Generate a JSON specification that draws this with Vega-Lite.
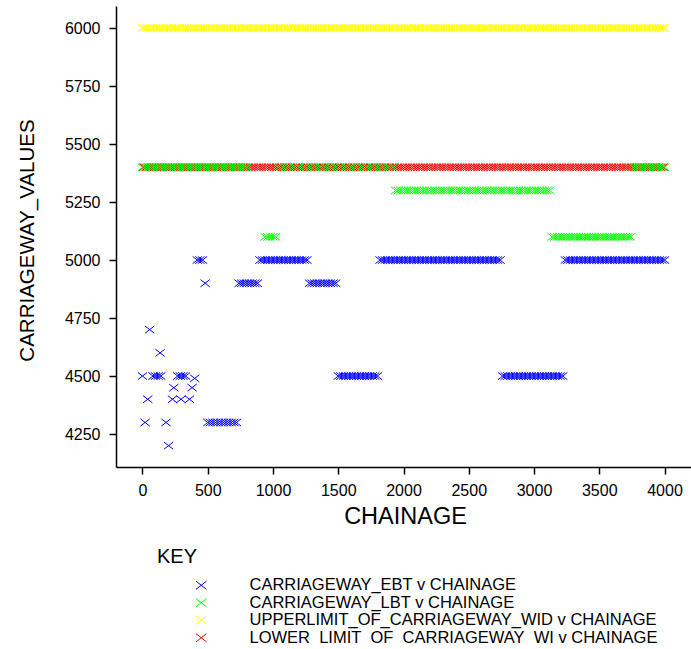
{
  "$schema": "https://vega.github.io/schema/vega-lite/v6.json",
  "width": 575,
  "height": 461,
  "autosize": {"type": "none"},
  "padding": {"left": 116, "top": 6, "right": 0, "bottom": 182},
  "background": "white",
  "config": {
    "view": {"stroke": null},
    "font": "Liberation Sans",
    "axis": {
      "grid": false,
      "domainColor": "black",
      "domainWidth": 1.5,
      "tickColor": "black",
      "tickWidth": 1.5,
      "tickSize": 7,
      "labelColor": "black",
      "labelFont": "Liberation Sans",
      "labelFontSize": 16,
      "titleColor": "black",
      "titleFontWeight": "normal"
    }
  },
  "data": {
    "values": [
      {"ch":0,"val":6000,"key":"UPP"},{"ch":20,"val":6000,"key":"UPP"},{"ch":40,"val":6000,"key":"UPP"},{"ch":60,"val":6000,"key":"UPP"},{"ch":80,"val":6000,"key":"UPP"},{"ch":100,"val":6000,"key":"UPP"},{"ch":120,"val":6000,"key":"UPP"},{"ch":140,"val":6000,"key":"UPP"},{"ch":160,"val":6000,"key":"UPP"},{"ch":180,"val":6000,"key":"UPP"},
      {"ch":200,"val":6000,"key":"UPP"},{"ch":220,"val":6000,"key":"UPP"},{"ch":240,"val":6000,"key":"UPP"},{"ch":260,"val":6000,"key":"UPP"},{"ch":280,"val":6000,"key":"UPP"},{"ch":300,"val":6000,"key":"UPP"},{"ch":320,"val":6000,"key":"UPP"},{"ch":340,"val":6000,"key":"UPP"},{"ch":360,"val":6000,"key":"UPP"},{"ch":380,"val":6000,"key":"UPP"},
      {"ch":400,"val":6000,"key":"UPP"},{"ch":420,"val":6000,"key":"UPP"},{"ch":440,"val":6000,"key":"UPP"},{"ch":460,"val":6000,"key":"UPP"},{"ch":480,"val":6000,"key":"UPP"},{"ch":500,"val":6000,"key":"UPP"},{"ch":520,"val":6000,"key":"UPP"},{"ch":540,"val":6000,"key":"UPP"},{"ch":560,"val":6000,"key":"UPP"},{"ch":580,"val":6000,"key":"UPP"},
      {"ch":600,"val":6000,"key":"UPP"},{"ch":620,"val":6000,"key":"UPP"},{"ch":640,"val":6000,"key":"UPP"},{"ch":660,"val":6000,"key":"UPP"},{"ch":680,"val":6000,"key":"UPP"},{"ch":700,"val":6000,"key":"UPP"},{"ch":720,"val":6000,"key":"UPP"},{"ch":740,"val":6000,"key":"UPP"},{"ch":760,"val":6000,"key":"UPP"},{"ch":780,"val":6000,"key":"UPP"},
      {"ch":800,"val":6000,"key":"UPP"},{"ch":820,"val":6000,"key":"UPP"},{"ch":840,"val":6000,"key":"UPP"},{"ch":860,"val":6000,"key":"UPP"},{"ch":880,"val":6000,"key":"UPP"},{"ch":900,"val":6000,"key":"UPP"},{"ch":920,"val":6000,"key":"UPP"},{"ch":940,"val":6000,"key":"UPP"},{"ch":960,"val":6000,"key":"UPP"},{"ch":980,"val":6000,"key":"UPP"},
      {"ch":1000,"val":6000,"key":"UPP"},{"ch":1020,"val":6000,"key":"UPP"},{"ch":1040,"val":6000,"key":"UPP"},{"ch":1060,"val":6000,"key":"UPP"},{"ch":1080,"val":6000,"key":"UPP"},{"ch":1100,"val":6000,"key":"UPP"},{"ch":1120,"val":6000,"key":"UPP"},{"ch":1140,"val":6000,"key":"UPP"},{"ch":1160,"val":6000,"key":"UPP"},{"ch":1180,"val":6000,"key":"UPP"},
      {"ch":1200,"val":6000,"key":"UPP"},{"ch":1220,"val":6000,"key":"UPP"},{"ch":1240,"val":6000,"key":"UPP"},{"ch":1260,"val":6000,"key":"UPP"},{"ch":1280,"val":6000,"key":"UPP"},{"ch":1300,"val":6000,"key":"UPP"},{"ch":1320,"val":6000,"key":"UPP"},{"ch":1340,"val":6000,"key":"UPP"},{"ch":1360,"val":6000,"key":"UPP"},{"ch":1380,"val":6000,"key":"UPP"},
      {"ch":1400,"val":6000,"key":"UPP"},{"ch":1420,"val":6000,"key":"UPP"},{"ch":1440,"val":6000,"key":"UPP"},{"ch":1460,"val":6000,"key":"UPP"},{"ch":1480,"val":6000,"key":"UPP"},{"ch":1500,"val":6000,"key":"UPP"},{"ch":1520,"val":6000,"key":"UPP"},{"ch":1540,"val":6000,"key":"UPP"},{"ch":1560,"val":6000,"key":"UPP"},{"ch":1580,"val":6000,"key":"UPP"},
      {"ch":1600,"val":6000,"key":"UPP"},{"ch":1620,"val":6000,"key":"UPP"},{"ch":1640,"val":6000,"key":"UPP"},{"ch":1660,"val":6000,"key":"UPP"},{"ch":1680,"val":6000,"key":"UPP"},{"ch":1700,"val":6000,"key":"UPP"},{"ch":1720,"val":6000,"key":"UPP"},{"ch":1740,"val":6000,"key":"UPP"},{"ch":1760,"val":6000,"key":"UPP"},{"ch":1780,"val":6000,"key":"UPP"},
      {"ch":1800,"val":6000,"key":"UPP"},{"ch":1820,"val":6000,"key":"UPP"},{"ch":1840,"val":6000,"key":"UPP"},{"ch":1860,"val":6000,"key":"UPP"},{"ch":1880,"val":6000,"key":"UPP"},{"ch":1900,"val":6000,"key":"UPP"},{"ch":1920,"val":6000,"key":"UPP"},{"ch":1940,"val":6000,"key":"UPP"},{"ch":1960,"val":6000,"key":"UPP"},{"ch":1980,"val":6000,"key":"UPP"},
      {"ch":2000,"val":6000,"key":"UPP"},{"ch":2020,"val":6000,"key":"UPP"},{"ch":2040,"val":6000,"key":"UPP"},{"ch":2060,"val":6000,"key":"UPP"},{"ch":2080,"val":6000,"key":"UPP"},{"ch":2100,"val":6000,"key":"UPP"},{"ch":2120,"val":6000,"key":"UPP"},{"ch":2140,"val":6000,"key":"UPP"},{"ch":2160,"val":6000,"key":"UPP"},{"ch":2180,"val":6000,"key":"UPP"},
      {"ch":2200,"val":6000,"key":"UPP"},{"ch":2220,"val":6000,"key":"UPP"},{"ch":2240,"val":6000,"key":"UPP"},{"ch":2260,"val":6000,"key":"UPP"},{"ch":2280,"val":6000,"key":"UPP"},{"ch":2300,"val":6000,"key":"UPP"},{"ch":2320,"val":6000,"key":"UPP"},{"ch":2340,"val":6000,"key":"UPP"},{"ch":2360,"val":6000,"key":"UPP"},{"ch":2380,"val":6000,"key":"UPP"},
      {"ch":2400,"val":6000,"key":"UPP"},{"ch":2420,"val":6000,"key":"UPP"},{"ch":2440,"val":6000,"key":"UPP"},{"ch":2460,"val":6000,"key":"UPP"},{"ch":2480,"val":6000,"key":"UPP"},{"ch":2500,"val":6000,"key":"UPP"},{"ch":2520,"val":6000,"key":"UPP"},{"ch":2540,"val":6000,"key":"UPP"},{"ch":2560,"val":6000,"key":"UPP"},{"ch":2580,"val":6000,"key":"UPP"},
      {"ch":2600,"val":6000,"key":"UPP"},{"ch":2620,"val":6000,"key":"UPP"},{"ch":2640,"val":6000,"key":"UPP"},{"ch":2660,"val":6000,"key":"UPP"},{"ch":2680,"val":6000,"key":"UPP"},{"ch":2700,"val":6000,"key":"UPP"},{"ch":2720,"val":6000,"key":"UPP"},{"ch":2740,"val":6000,"key":"UPP"},{"ch":2760,"val":6000,"key":"UPP"},{"ch":2780,"val":6000,"key":"UPP"},
      {"ch":2800,"val":6000,"key":"UPP"},{"ch":2820,"val":6000,"key":"UPP"},{"ch":2840,"val":6000,"key":"UPP"},{"ch":2860,"val":6000,"key":"UPP"},{"ch":2880,"val":6000,"key":"UPP"},{"ch":2900,"val":6000,"key":"UPP"},{"ch":2920,"val":6000,"key":"UPP"},{"ch":2940,"val":6000,"key":"UPP"},{"ch":2960,"val":6000,"key":"UPP"},{"ch":2980,"val":6000,"key":"UPP"},
      {"ch":3000,"val":6000,"key":"UPP"},{"ch":3020,"val":6000,"key":"UPP"},{"ch":3040,"val":6000,"key":"UPP"},{"ch":3060,"val":6000,"key":"UPP"},{"ch":3080,"val":6000,"key":"UPP"},{"ch":3100,"val":6000,"key":"UPP"},{"ch":3120,"val":6000,"key":"UPP"},{"ch":3140,"val":6000,"key":"UPP"},{"ch":3160,"val":6000,"key":"UPP"},{"ch":3180,"val":6000,"key":"UPP"},
      {"ch":3200,"val":6000,"key":"UPP"},{"ch":3220,"val":6000,"key":"UPP"},{"ch":3240,"val":6000,"key":"UPP"},{"ch":3260,"val":6000,"key":"UPP"},{"ch":3280,"val":6000,"key":"UPP"},{"ch":3300,"val":6000,"key":"UPP"},{"ch":3320,"val":6000,"key":"UPP"},{"ch":3340,"val":6000,"key":"UPP"},{"ch":3360,"val":6000,"key":"UPP"},{"ch":3380,"val":6000,"key":"UPP"},
      {"ch":3400,"val":6000,"key":"UPP"},{"ch":3420,"val":6000,"key":"UPP"},{"ch":3440,"val":6000,"key":"UPP"},{"ch":3460,"val":6000,"key":"UPP"},{"ch":3480,"val":6000,"key":"UPP"},{"ch":3500,"val":6000,"key":"UPP"},{"ch":3520,"val":6000,"key":"UPP"},{"ch":3540,"val":6000,"key":"UPP"},{"ch":3560,"val":6000,"key":"UPP"},{"ch":3580,"val":6000,"key":"UPP"},
      {"ch":3600,"val":6000,"key":"UPP"},{"ch":3620,"val":6000,"key":"UPP"},{"ch":3640,"val":6000,"key":"UPP"},{"ch":3660,"val":6000,"key":"UPP"},{"ch":3680,"val":6000,"key":"UPP"},{"ch":3700,"val":6000,"key":"UPP"},{"ch":3720,"val":6000,"key":"UPP"},{"ch":3740,"val":6000,"key":"UPP"},{"ch":3760,"val":6000,"key":"UPP"},{"ch":3780,"val":6000,"key":"UPP"},
      {"ch":3800,"val":6000,"key":"UPP"},{"ch":3820,"val":6000,"key":"UPP"},{"ch":3840,"val":6000,"key":"UPP"},{"ch":3860,"val":6000,"key":"UPP"},{"ch":3880,"val":6000,"key":"UPP"},{"ch":3900,"val":6000,"key":"UPP"},{"ch":3920,"val":6000,"key":"UPP"},{"ch":3940,"val":6000,"key":"UPP"},{"ch":3960,"val":6000,"key":"UPP"},{"ch":3980,"val":6000,"key":"UPP"},
      {"ch":4000,"val":6000,"key":"UPP"},

      {"ch":0,"val":4500,"key":"EBT"},{"ch":20,"val":4300,"key":"EBT"},{"ch":40,"val":4400,"key":"EBT"},{"ch":55,"val":4700,"key":"EBT"},{"ch":80,"val":4500,"key":"EBT"},{"ch":100,"val":4500,"key":"EBT"},{"ch":120,"val":4500,"key":"EBT"},{"ch":135,"val":4600,"key":"EBT"},{"ch":140,"val":4500,"key":"EBT"},{"ch":180,"val":4300,"key":"EBT"},
      {"ch":200,"val":4200,"key":"EBT"},{"ch":230,"val":4400,"key":"EBT"},{"ch":240,"val":4450,"key":"EBT"},{"ch":270,"val":4500,"key":"EBT"},{"ch":290,"val":4500,"key":"EBT"},{"ch":295,"val":4400,"key":"EBT"},{"ch":310,"val":4500,"key":"EBT"},{"ch":330,"val":4500,"key":"EBT"},{"ch":360,"val":4400,"key":"EBT"},{"ch":380,"val":4450,"key":"EBT"},
      {"ch":400,"val":4490,"key":"EBT"},{"ch":420,"val":5000,"key":"EBT"},{"ch":440,"val":5000,"key":"EBT"},{"ch":460,"val":5000,"key":"EBT"},{"ch":480,"val":4900,"key":"EBT"},
      {"ch":500,"val":4300,"key":"EBT"},{"ch":520,"val":4300,"key":"EBT"},{"ch":540,"val":4300,"key":"EBT"},{"ch":560,"val":4300,"key":"EBT"},{"ch":580,"val":4300,"key":"EBT"},{"ch":600,"val":4300,"key":"EBT"},{"ch":620,"val":4300,"key":"EBT"},{"ch":640,"val":4300,"key":"EBT"},{"ch":660,"val":4300,"key":"EBT"},{"ch":680,"val":4300,"key":"EBT"},{"ch":700,"val":4300,"key":"EBT"},{"ch":720,"val":4300,"key":"EBT"},
      {"ch":740,"val":4900,"key":"EBT"},{"ch":760,"val":4900,"key":"EBT"},{"ch":780,"val":4900,"key":"EBT"},{"ch":800,"val":4900,"key":"EBT"},{"ch":820,"val":4900,"key":"EBT"},{"ch":840,"val":4900,"key":"EBT"},{"ch":860,"val":4900,"key":"EBT"},{"ch":880,"val":4900,"key":"EBT"},
      {"ch":900,"val":5000,"key":"EBT"},{"ch":920,"val":5000,"key":"EBT"},{"ch":940,"val":5000,"key":"EBT"},{"ch":960,"val":5000,"key":"EBT"},{"ch":980,"val":5000,"key":"EBT"},{"ch":1000,"val":5000,"key":"EBT"},{"ch":1020,"val":5000,"key":"EBT"},{"ch":1040,"val":5000,"key":"EBT"},{"ch":1060,"val":5000,"key":"EBT"},{"ch":1080,"val":5000,"key":"EBT"},
      {"ch":1100,"val":5000,"key":"EBT"},{"ch":1120,"val":5000,"key":"EBT"},{"ch":1140,"val":5000,"key":"EBT"},{"ch":1160,"val":5000,"key":"EBT"},{"ch":1180,"val":5000,"key":"EBT"},{"ch":1200,"val":5000,"key":"EBT"},{"ch":1220,"val":5000,"key":"EBT"},{"ch":1240,"val":5000,"key":"EBT"},{"ch":1260,"val":5000,"key":"EBT"},
      {"ch":1280,"val":4900,"key":"EBT"},{"ch":1300,"val":4900,"key":"EBT"},{"ch":1320,"val":4900,"key":"EBT"},{"ch":1340,"val":4900,"key":"EBT"},{"ch":1360,"val":4900,"key":"EBT"},{"ch":1380,"val":4900,"key":"EBT"},{"ch":1400,"val":4900,"key":"EBT"},{"ch":1420,"val":4900,"key":"EBT"},{"ch":1440,"val":4900,"key":"EBT"},{"ch":1460,"val":4900,"key":"EBT"},{"ch":1480,"val":4900,"key":"EBT"},
      {"ch":1500,"val":4500,"key":"EBT"},{"ch":1520,"val":4500,"key":"EBT"},{"ch":1540,"val":4500,"key":"EBT"},{"ch":1560,"val":4500,"key":"EBT"},{"ch":1580,"val":4500,"key":"EBT"},{"ch":1600,"val":4500,"key":"EBT"},{"ch":1620,"val":4500,"key":"EBT"},{"ch":1640,"val":4500,"key":"EBT"},{"ch":1660,"val":4500,"key":"EBT"},{"ch":1680,"val":4500,"key":"EBT"},
      {"ch":1700,"val":4500,"key":"EBT"},{"ch":1720,"val":4500,"key":"EBT"},{"ch":1740,"val":4500,"key":"EBT"},{"ch":1760,"val":4500,"key":"EBT"},{"ch":1780,"val":4500,"key":"EBT"},{"ch":1800,"val":4500,"key":"EBT"},
      {"ch":1820,"val":5000,"key":"EBT"},{"ch":1840,"val":5000,"key":"EBT"},{"ch":1860,"val":5000,"key":"EBT"},{"ch":1880,"val":5000,"key":"EBT"},{"ch":1900,"val":5000,"key":"EBT"},{"ch":1920,"val":5000,"key":"EBT"},{"ch":1940,"val":5000,"key":"EBT"},{"ch":1960,"val":5000,"key":"EBT"},{"ch":1980,"val":5000,"key":"EBT"},
      {"ch":2000,"val":5000,"key":"EBT"},{"ch":2020,"val":5000,"key":"EBT"},{"ch":2040,"val":5000,"key":"EBT"},{"ch":2060,"val":5000,"key":"EBT"},{"ch":2080,"val":5000,"key":"EBT"},{"ch":2100,"val":5000,"key":"EBT"},{"ch":2120,"val":5000,"key":"EBT"},{"ch":2140,"val":5000,"key":"EBT"},{"ch":2160,"val":5000,"key":"EBT"},{"ch":2180,"val":5000,"key":"EBT"},
      {"ch":2200,"val":5000,"key":"EBT"},{"ch":2220,"val":5000,"key":"EBT"},{"ch":2240,"val":5000,"key":"EBT"},{"ch":2260,"val":5000,"key":"EBT"},{"ch":2280,"val":5000,"key":"EBT"},{"ch":2300,"val":5000,"key":"EBT"},{"ch":2320,"val":5000,"key":"EBT"},{"ch":2340,"val":5000,"key":"EBT"},{"ch":2360,"val":5000,"key":"EBT"},{"ch":2380,"val":5000,"key":"EBT"},
      {"ch":2400,"val":5000,"key":"EBT"},{"ch":2420,"val":5000,"key":"EBT"},{"ch":2440,"val":5000,"key":"EBT"},{"ch":2460,"val":5000,"key":"EBT"},{"ch":2480,"val":5000,"key":"EBT"},{"ch":2500,"val":5000,"key":"EBT"},{"ch":2520,"val":5000,"key":"EBT"},{"ch":2540,"val":5000,"key":"EBT"},{"ch":2560,"val":5000,"key":"EBT"},{"ch":2580,"val":5000,"key":"EBT"},
      {"ch":2600,"val":5000,"key":"EBT"},{"ch":2620,"val":5000,"key":"EBT"},{"ch":2640,"val":5000,"key":"EBT"},{"ch":2660,"val":5000,"key":"EBT"},{"ch":2680,"val":5000,"key":"EBT"},{"ch":2700,"val":5000,"key":"EBT"},{"ch":2720,"val":5000,"key":"EBT"},{"ch":2740,"val":5000,"key":"EBT"},
      {"ch":2760,"val":4500,"key":"EBT"},{"ch":2780,"val":4500,"key":"EBT"},{"ch":2800,"val":4500,"key":"EBT"},{"ch":2820,"val":4500,"key":"EBT"},{"ch":2840,"val":4500,"key":"EBT"},{"ch":2860,"val":4500,"key":"EBT"},{"ch":2880,"val":4500,"key":"EBT"},{"ch":2900,"val":4500,"key":"EBT"},{"ch":2920,"val":4500,"key":"EBT"},{"ch":2940,"val":4500,"key":"EBT"},
      {"ch":2960,"val":4500,"key":"EBT"},{"ch":2980,"val":4500,"key":"EBT"},{"ch":3000,"val":4500,"key":"EBT"},{"ch":3020,"val":4500,"key":"EBT"},{"ch":3040,"val":4500,"key":"EBT"},{"ch":3060,"val":4500,"key":"EBT"},{"ch":3080,"val":4500,"key":"EBT"},{"ch":3100,"val":4500,"key":"EBT"},{"ch":3120,"val":4500,"key":"EBT"},{"ch":3140,"val":4500,"key":"EBT"},
      {"ch":3160,"val":4500,"key":"EBT"},{"ch":3180,"val":4500,"key":"EBT"},{"ch":3200,"val":4500,"key":"EBT"},{"ch":3220,"val":4500,"key":"EBT"},
      {"ch":3240,"val":5000,"key":"EBT"},{"ch":3260,"val":5000,"key":"EBT"},{"ch":3280,"val":5000,"key":"EBT"},{"ch":3300,"val":5000,"key":"EBT"},{"ch":3320,"val":5000,"key":"EBT"},{"ch":3340,"val":5000,"key":"EBT"},{"ch":3360,"val":5000,"key":"EBT"},{"ch":3380,"val":5000,"key":"EBT"},
      {"ch":3400,"val":5000,"key":"EBT"},{"ch":3420,"val":5000,"key":"EBT"},{"ch":3440,"val":5000,"key":"EBT"},{"ch":3460,"val":5000,"key":"EBT"},{"ch":3480,"val":5000,"key":"EBT"},{"ch":3500,"val":5000,"key":"EBT"},{"ch":3520,"val":5000,"key":"EBT"},{"ch":3540,"val":5000,"key":"EBT"},{"ch":3560,"val":5000,"key":"EBT"},{"ch":3580,"val":5000,"key":"EBT"},
      {"ch":3600,"val":5000,"key":"EBT"},{"ch":3620,"val":5000,"key":"EBT"},{"ch":3640,"val":5000,"key":"EBT"},{"ch":3660,"val":5000,"key":"EBT"},{"ch":3680,"val":5000,"key":"EBT"},{"ch":3700,"val":5000,"key":"EBT"},{"ch":3720,"val":5000,"key":"EBT"},{"ch":3740,"val":5000,"key":"EBT"},{"ch":3760,"val":5000,"key":"EBT"},{"ch":3780,"val":5000,"key":"EBT"},
      {"ch":3800,"val":5000,"key":"EBT"},{"ch":3820,"val":5000,"key":"EBT"},{"ch":3840,"val":5000,"key":"EBT"},{"ch":3860,"val":5000,"key":"EBT"},{"ch":3880,"val":5000,"key":"EBT"},{"ch":3900,"val":5000,"key":"EBT"},{"ch":3920,"val":5000,"key":"EBT"},{"ch":3940,"val":5000,"key":"EBT"},{"ch":3960,"val":5000,"key":"EBT"},{"ch":3980,"val":5000,"key":"EBT"},
      {"ch":4000,"val":5000,"key":"EBT"},

      {"ch":10,"val":5400,"key":"LOW"},{"ch":30,"val":5400,"key":"LOW"},{"ch":50,"val":5400,"key":"LOW"},{"ch":70,"val":5400,"key":"LOW"},{"ch":90,"val":5400,"key":"LOW"},{"ch":110,"val":5400,"key":"LOW"},{"ch":130,"val":5400,"key":"LOW"},{"ch":150,"val":5400,"key":"LOW"},{"ch":170,"val":5400,"key":"LOW"},{"ch":190,"val":5400,"key":"LOW"},
      {"ch":210,"val":5400,"key":"LOW"},{"ch":230,"val":5400,"key":"LOW"},{"ch":250,"val":5400,"key":"LOW"},{"ch":270,"val":5400,"key":"LOW"},{"ch":290,"val":5400,"key":"LOW"},{"ch":310,"val":5400,"key":"LOW"},{"ch":330,"val":5400,"key":"LOW"},{"ch":350,"val":5400,"key":"LOW"},{"ch":370,"val":5400,"key":"LOW"},{"ch":390,"val":5400,"key":"LOW"},
      {"ch":410,"val":5400,"key":"LOW"},{"ch":430,"val":5400,"key":"LOW"},{"ch":450,"val":5400,"key":"LOW"},{"ch":470,"val":5400,"key":"LOW"},{"ch":490,"val":5400,"key":"LOW"},{"ch":510,"val":5400,"key":"LOW"},{"ch":530,"val":5400,"key":"LOW"},{"ch":550,"val":5400,"key":"LOW"},{"ch":570,"val":5400,"key":"LOW"},{"ch":590,"val":5400,"key":"LOW"},
      {"ch":610,"val":5400,"key":"LOW"},{"ch":630,"val":5400,"key":"LOW"},{"ch":650,"val":5400,"key":"LOW"},{"ch":670,"val":5400,"key":"LOW"},{"ch":690,"val":5400,"key":"LOW"},{"ch":710,"val":5400,"key":"LOW"},{"ch":730,"val":5400,"key":"LOW"},{"ch":750,"val":5400,"key":"LOW"},{"ch":770,"val":5400,"key":"LOW"},{"ch":790,"val":5400,"key":"LOW"},
      {"ch":810,"val":5400,"key":"LOW"},{"ch":830,"val":5400,"key":"LOW"},{"ch":850,"val":5400,"key":"LOW"},{"ch":870,"val":5400,"key":"LOW"},{"ch":890,"val":5400,"key":"LOW"},{"ch":910,"val":5400,"key":"LOW"},{"ch":930,"val":5400,"key":"LOW"},{"ch":950,"val":5400,"key":"LOW"},{"ch":970,"val":5400,"key":"LOW"},{"ch":990,"val":5400,"key":"LOW"},
      {"ch":1010,"val":5400,"key":"LOW"},{"ch":1030,"val":5400,"key":"LOW"},{"ch":1050,"val":5400,"key":"LOW"},{"ch":1070,"val":5400,"key":"LOW"},{"ch":1090,"val":5400,"key":"LOW"},{"ch":1110,"val":5400,"key":"LOW"},{"ch":1130,"val":5400,"key":"LOW"},{"ch":1150,"val":5400,"key":"LOW"},{"ch":1170,"val":5400,"key":"LOW"},{"ch":1190,"val":5400,"key":"LOW"},
      {"ch":1210,"val":5400,"key":"LOW"},{"ch":1230,"val":5400,"key":"LOW"},{"ch":1250,"val":5400,"key":"LOW"},{"ch":1270,"val":5400,"key":"LOW"},{"ch":1290,"val":5400,"key":"LOW"},{"ch":1310,"val":5400,"key":"LOW"},{"ch":1330,"val":5400,"key":"LOW"},{"ch":1350,"val":5400,"key":"LOW"},{"ch":1370,"val":5400,"key":"LOW"},{"ch":1390,"val":5400,"key":"LOW"},
      {"ch":1410,"val":5400,"key":"LOW"},{"ch":1430,"val":5400,"key":"LOW"},{"ch":1450,"val":5400,"key":"LOW"},{"ch":1470,"val":5400,"key":"LOW"},{"ch":1490,"val":5400,"key":"LOW"},{"ch":1510,"val":5400,"key":"LOW"},{"ch":1530,"val":5400,"key":"LOW"},{"ch":1550,"val":5400,"key":"LOW"},{"ch":1570,"val":5400,"key":"LOW"},{"ch":1590,"val":5400,"key":"LOW"},
      {"ch":1610,"val":5400,"key":"LOW"},{"ch":1630,"val":5400,"key":"LOW"},{"ch":1650,"val":5400,"key":"LOW"},{"ch":1670,"val":5400,"key":"LOW"},{"ch":1690,"val":5400,"key":"LOW"},{"ch":1710,"val":5400,"key":"LOW"},{"ch":1730,"val":5400,"key":"LOW"},{"ch":1750,"val":5400,"key":"LOW"},{"ch":1770,"val":5400,"key":"LOW"},{"ch":1790,"val":5400,"key":"LOW"},
      {"ch":1810,"val":5400,"key":"LOW"},{"ch":1830,"val":5400,"key":"LOW"},{"ch":1850,"val":5400,"key":"LOW"},{"ch":1870,"val":5400,"key":"LOW"},{"ch":1890,"val":5400,"key":"LOW"},{"ch":1910,"val":5400,"key":"LOW"},{"ch":1930,"val":5400,"key":"LOW"},{"ch":1950,"val":5400,"key":"LOW"},{"ch":1970,"val":5400,"key":"LOW"},{"ch":1990,"val":5400,"key":"LOW"},
      {"ch":2010,"val":5400,"key":"LOW"},{"ch":2030,"val":5400,"key":"LOW"},{"ch":2050,"val":5400,"key":"LOW"},{"ch":2070,"val":5400,"key":"LOW"},{"ch":2090,"val":5400,"key":"LOW"},{"ch":2110,"val":5400,"key":"LOW"},{"ch":2130,"val":5400,"key":"LOW"},{"ch":2150,"val":5400,"key":"LOW"},{"ch":2170,"val":5400,"key":"LOW"},{"ch":2190,"val":5400,"key":"LOW"},
      {"ch":2210,"val":5400,"key":"LOW"},{"ch":2230,"val":5400,"key":"LOW"},{"ch":2250,"val":5400,"key":"LOW"},{"ch":2270,"val":5400,"key":"LOW"},{"ch":2290,"val":5400,"key":"LOW"},{"ch":2310,"val":5400,"key":"LOW"},{"ch":2330,"val":5400,"key":"LOW"},{"ch":2350,"val":5400,"key":"LOW"},{"ch":2370,"val":5400,"key":"LOW"},{"ch":2390,"val":5400,"key":"LOW"},
      {"ch":2410,"val":5400,"key":"LOW"},{"ch":2430,"val":5400,"key":"LOW"},{"ch":2450,"val":5400,"key":"LOW"},{"ch":2470,"val":5400,"key":"LOW"},{"ch":2490,"val":5400,"key":"LOW"},{"ch":2510,"val":5400,"key":"LOW"},{"ch":2530,"val":5400,"key":"LOW"},{"ch":2550,"val":5400,"key":"LOW"},{"ch":2570,"val":5400,"key":"LOW"},{"ch":2590,"val":5400,"key":"LOW"},
      {"ch":2610,"val":5400,"key":"LOW"},{"ch":2630,"val":5400,"key":"LOW"},{"ch":2650,"val":5400,"key":"LOW"},{"ch":2670,"val":5400,"key":"LOW"},{"ch":2690,"val":5400,"key":"LOW"},{"ch":2710,"val":5400,"key":"LOW"},{"ch":2730,"val":5400,"key":"LOW"},{"ch":2750,"val":5400,"key":"LOW"},{"ch":2770,"val":5400,"key":"LOW"},{"ch":2790,"val":5400,"key":"LOW"},
      {"ch":2810,"val":5400,"key":"LOW"},{"ch":2830,"val":5400,"key":"LOW"},{"ch":2850,"val":5400,"key":"LOW"},{"ch":2870,"val":5400,"key":"LOW"},{"ch":2890,"val":5400,"key":"LOW"},{"ch":2910,"val":5400,"key":"LOW"},{"ch":2930,"val":5400,"key":"LOW"},{"ch":2950,"val":5400,"key":"LOW"},{"ch":2970,"val":5400,"key":"LOW"},{"ch":2990,"val":5400,"key":"LOW"},
      {"ch":3010,"val":5400,"key":"LOW"},{"ch":3030,"val":5400,"key":"LOW"},{"ch":3050,"val":5400,"key":"LOW"},{"ch":3070,"val":5400,"key":"LOW"},{"ch":3090,"val":5400,"key":"LOW"},{"ch":3110,"val":5400,"key":"LOW"},{"ch":3130,"val":5400,"key":"LOW"},{"ch":3150,"val":5400,"key":"LOW"},{"ch":3170,"val":5400,"key":"LOW"},{"ch":3190,"val":5400,"key":"LOW"},
      {"ch":3210,"val":5400,"key":"LOW"},{"ch":3230,"val":5400,"key":"LOW"},{"ch":3250,"val":5400,"key":"LOW"},{"ch":3270,"val":5400,"key":"LOW"},{"ch":3290,"val":5400,"key":"LOW"},{"ch":3310,"val":5400,"key":"LOW"},{"ch":3330,"val":5400,"key":"LOW"},{"ch":3350,"val":5400,"key":"LOW"},{"ch":3370,"val":5400,"key":"LOW"},{"ch":3390,"val":5400,"key":"LOW"},
      {"ch":3410,"val":5400,"key":"LOW"},{"ch":3430,"val":5400,"key":"LOW"},{"ch":3450,"val":5400,"key":"LOW"},{"ch":3470,"val":5400,"key":"LOW"},{"ch":3490,"val":5400,"key":"LOW"},{"ch":3510,"val":5400,"key":"LOW"},{"ch":3530,"val":5400,"key":"LOW"},{"ch":3550,"val":5400,"key":"LOW"},{"ch":3570,"val":5400,"key":"LOW"},{"ch":3590,"val":5400,"key":"LOW"},
      {"ch":3610,"val":5400,"key":"LOW"},{"ch":3630,"val":5400,"key":"LOW"},{"ch":3650,"val":5400,"key":"LOW"},{"ch":3670,"val":5400,"key":"LOW"},{"ch":3690,"val":5400,"key":"LOW"},{"ch":3710,"val":5400,"key":"LOW"},{"ch":3730,"val":5400,"key":"LOW"},{"ch":3750,"val":5400,"key":"LOW"},{"ch":3770,"val":5400,"key":"LOW"},{"ch":3790,"val":5400,"key":"LOW"},
      {"ch":3810,"val":5400,"key":"LOW"},{"ch":3830,"val":5400,"key":"LOW"},{"ch":3850,"val":5400,"key":"LOW"},{"ch":3870,"val":5400,"key":"LOW"},{"ch":3890,"val":5400,"key":"LOW"},{"ch":3910,"val":5400,"key":"LOW"},{"ch":3930,"val":5400,"key":"LOW"},{"ch":3950,"val":5400,"key":"LOW"},{"ch":3970,"val":5400,"key":"LOW"},{"ch":3990,"val":5400,"key":"LOW"},

      {"ch":0,"val":5400,"key":"LBT"},{"ch":20,"val":5400,"key":"LBT"},{"ch":40,"val":5400,"key":"LBT"},{"ch":60,"val":5400,"key":"LBT"},{"ch":80,"val":5400,"key":"LBT"},{"ch":100,"val":5400,"key":"LBT"},{"ch":120,"val":5400,"key":"LBT"},{"ch":140,"val":5400,"key":"LBT"},{"ch":160,"val":5400,"key":"LBT"},{"ch":180,"val":5400,"key":"LBT"},
      {"ch":200,"val":5400,"key":"LBT"},{"ch":220,"val":5400,"key":"LBT"},{"ch":240,"val":5400,"key":"LBT"},{"ch":260,"val":5400,"key":"LBT"},{"ch":280,"val":5400,"key":"LBT"},{"ch":300,"val":5400,"key":"LBT"},{"ch":320,"val":5400,"key":"LBT"},{"ch":340,"val":5400,"key":"LBT"},{"ch":360,"val":5400,"key":"LBT"},{"ch":380,"val":5400,"key":"LBT"},
      {"ch":400,"val":5400,"key":"LBT"},{"ch":420,"val":5400,"key":"LBT"},{"ch":440,"val":5400,"key":"LBT"},{"ch":460,"val":5400,"key":"LBT"},{"ch":480,"val":5400,"key":"LBT"},{"ch":500,"val":5400,"key":"LBT"},{"ch":520,"val":5400,"key":"LBT"},{"ch":540,"val":5400,"key":"LBT"},{"ch":560,"val":5400,"key":"LBT"},{"ch":580,"val":5400,"key":"LBT"},
      {"ch":600,"val":5400,"key":"LBT"},{"ch":620,"val":5400,"key":"LBT"},{"ch":640,"val":5400,"key":"LBT"},{"ch":660,"val":5400,"key":"LBT"},{"ch":680,"val":5400,"key":"LBT"},{"ch":700,"val":5400,"key":"LBT"},{"ch":720,"val":5400,"key":"LBT"},{"ch":740,"val":5400,"key":"LBT"},{"ch":760,"val":5400,"key":"LBT"},{"ch":780,"val":5400,"key":"LBT"},
      {"ch":800,"val":5400,"key":"LBT"},
      {"ch":940,"val":5100,"key":"LBT"},{"ch":960,"val":5100,"key":"LBT"},{"ch":980,"val":5100,"key":"LBT"},{"ch":1000,"val":5100,"key":"LBT"},{"ch":1020,"val":5100,"key":"LBT"},
      {"ch":1040,"val":5400,"key":"LBT"},{"ch":1080,"val":5400,"key":"LBT"},{"ch":1120,"val":5400,"key":"LBT"},{"ch":1160,"val":5400,"key":"LBT"},
      {"ch":1200,"val":5400,"key":"LBT"},{"ch":1240,"val":5400,"key":"LBT"},{"ch":1280,"val":5400,"key":"LBT"},{"ch":1320,"val":5400,"key":"LBT"},{"ch":1360,"val":5400,"key":"LBT"},
      {"ch":1400,"val":5400,"key":"LBT"},{"ch":1440,"val":5400,"key":"LBT"},{"ch":1480,"val":5400,"key":"LBT"},{"ch":1520,"val":5400,"key":"LBT"},{"ch":1560,"val":5400,"key":"LBT"},
      {"ch":1600,"val":5400,"key":"LBT"},{"ch":1640,"val":5400,"key":"LBT"},{"ch":1680,"val":5400,"key":"LBT"},{"ch":1720,"val":5400,"key":"LBT"},{"ch":1760,"val":5400,"key":"LBT"},
      {"ch":1800,"val":5400,"key":"LBT"},{"ch":1840,"val":5400,"key":"LBT"},{"ch":1880,"val":5400,"key":"LBT"},{"ch":1920,"val":5400,"key":"LBT"},
      {"ch":1940,"val":5300,"key":"LBT"},{"ch":1960,"val":5300,"key":"LBT"},{"ch":1980,"val":5300,"key":"LBT"},{"ch":2000,"val":5300,"key":"LBT"},{"ch":2020,"val":5300,"key":"LBT"},{"ch":2040,"val":5300,"key":"LBT"},{"ch":2060,"val":5300,"key":"LBT"},{"ch":2080,"val":5300,"key":"LBT"},{"ch":2100,"val":5300,"key":"LBT"},{"ch":2120,"val":5300,"key":"LBT"},
      {"ch":2140,"val":5300,"key":"LBT"},{"ch":2160,"val":5300,"key":"LBT"},{"ch":2180,"val":5300,"key":"LBT"},{"ch":2200,"val":5300,"key":"LBT"},{"ch":2220,"val":5300,"key":"LBT"},{"ch":2240,"val":5300,"key":"LBT"},{"ch":2260,"val":5300,"key":"LBT"},{"ch":2280,"val":5300,"key":"LBT"},{"ch":2300,"val":5300,"key":"LBT"},{"ch":2320,"val":5300,"key":"LBT"},
      {"ch":2340,"val":5300,"key":"LBT"},{"ch":2360,"val":5300,"key":"LBT"},{"ch":2380,"val":5300,"key":"LBT"},{"ch":2400,"val":5300,"key":"LBT"},{"ch":2420,"val":5300,"key":"LBT"},{"ch":2440,"val":5300,"key":"LBT"},{"ch":2460,"val":5300,"key":"LBT"},{"ch":2480,"val":5300,"key":"LBT"},{"ch":2500,"val":5300,"key":"LBT"},{"ch":2520,"val":5300,"key":"LBT"},
      {"ch":2540,"val":5300,"key":"LBT"},{"ch":2560,"val":5300,"key":"LBT"},{"ch":2580,"val":5300,"key":"LBT"},{"ch":2600,"val":5300,"key":"LBT"},{"ch":2620,"val":5300,"key":"LBT"},{"ch":2640,"val":5300,"key":"LBT"},{"ch":2660,"val":5300,"key":"LBT"},{"ch":2680,"val":5300,"key":"LBT"},{"ch":2700,"val":5300,"key":"LBT"},{"ch":2720,"val":5300,"key":"LBT"},
      {"ch":2740,"val":5300,"key":"LBT"},{"ch":2760,"val":5300,"key":"LBT"},{"ch":2780,"val":5300,"key":"LBT"},{"ch":2800,"val":5300,"key":"LBT"},{"ch":2820,"val":5300,"key":"LBT"},{"ch":2840,"val":5300,"key":"LBT"},{"ch":2860,"val":5300,"key":"LBT"},{"ch":2880,"val":5300,"key":"LBT"},{"ch":2900,"val":5300,"key":"LBT"},{"ch":2920,"val":5300,"key":"LBT"},
      {"ch":2940,"val":5300,"key":"LBT"},{"ch":2960,"val":5300,"key":"LBT"},{"ch":2980,"val":5300,"key":"LBT"},{"ch":3000,"val":5300,"key":"LBT"},{"ch":3020,"val":5300,"key":"LBT"},{"ch":3040,"val":5300,"key":"LBT"},{"ch":3060,"val":5300,"key":"LBT"},{"ch":3080,"val":5300,"key":"LBT"},{"ch":3100,"val":5300,"key":"LBT"},{"ch":3120,"val":5300,"key":"LBT"},
      {"ch":3140,"val":5100,"key":"LBT"},{"ch":3160,"val":5100,"key":"LBT"},{"ch":3180,"val":5100,"key":"LBT"},{"ch":3200,"val":5100,"key":"LBT"},{"ch":3220,"val":5100,"key":"LBT"},{"ch":3240,"val":5100,"key":"LBT"},{"ch":3260,"val":5100,"key":"LBT"},{"ch":3280,"val":5100,"key":"LBT"},{"ch":3300,"val":5100,"key":"LBT"},{"ch":3320,"val":5100,"key":"LBT"},
      {"ch":3340,"val":5100,"key":"LBT"},{"ch":3360,"val":5100,"key":"LBT"},{"ch":3380,"val":5100,"key":"LBT"},{"ch":3400,"val":5100,"key":"LBT"},{"ch":3420,"val":5100,"key":"LBT"},{"ch":3440,"val":5100,"key":"LBT"},{"ch":3460,"val":5100,"key":"LBT"},{"ch":3480,"val":5100,"key":"LBT"},{"ch":3500,"val":5100,"key":"LBT"},{"ch":3520,"val":5100,"key":"LBT"},
      {"ch":3540,"val":5100,"key":"LBT"},{"ch":3560,"val":5100,"key":"LBT"},{"ch":3580,"val":5100,"key":"LBT"},{"ch":3600,"val":5100,"key":"LBT"},{"ch":3620,"val":5100,"key":"LBT"},{"ch":3640,"val":5100,"key":"LBT"},{"ch":3660,"val":5100,"key":"LBT"},{"ch":3680,"val":5100,"key":"LBT"},{"ch":3700,"val":5100,"key":"LBT"},{"ch":3720,"val":5100,"key":"LBT"},
      {"ch":3740,"val":5100,"key":"LBT"},
      {"ch":3760,"val":5400,"key":"LBT"},{"ch":3780,"val":5400,"key":"LBT"},{"ch":3800,"val":5400,"key":"LBT"},{"ch":3820,"val":5400,"key":"LBT"},{"ch":3840,"val":5400,"key":"LBT"},{"ch":3860,"val":5400,"key":"LBT"},{"ch":3880,"val":5400,"key":"LBT"},{"ch":3900,"val":5400,"key":"LBT"},{"ch":3920,"val":5400,"key":"LBT"},{"ch":3940,"val":5400,"key":"LBT"},
      {"ch":3960,"val":5400,"key":"LBT"},{"ch":3980,"val":5400,"key":"LBT"},{"ch":4000,"val":5400,"key":"LBT"}
    ]
  },
  "mark": {
    "type": "point",
    "shape": "M-1,-0.78L1,0.78M-1,0.78L1,-0.78",
    "filled": false,
    "size": 86,
    "strokeWidth": 1,
    "opacity": 1
  },
  "encoding": {
    "x": {
      "field": "ch",
      "type": "quantitative",
      "scale": {"domain": [-203, 4203], "nice": false, "zero": false},
      "axis": {
        "values": [0, 500, 1000, 1500, 2000, 2500, 3000, 3500, 4000],
        "format": "d",
        "labelPadding": 8,
        "title": "CHAINAGE",
        "titleFont": "Liberation Sans",
        "titleFontSize": 23.5,
        "titleX": 289,
        "titleY": 56,
        "titleAlign": "center",
        "titleBaseline": "alphabetic"
      }
    },
    "y": {
      "field": "val",
      "type": "quantitative",
      "scale": {"domain": [4108, 6095], "nice": false, "zero": false},
      "axis": {
        "values": [4250, 4500, 4750, 5000, 5250, 5500, 5750, 6000],
        "format": "d",
        "labelPadding": 9,
        "title": "CARRIAGEWAY_VALUES",
        "titleFont": "Liberation Sans",
        "titleFontSize": 20.5,
        "titleAngle": 270,
        "titleX": -83,
        "titleY": 234,
        "titleAlign": "center",
        "titleBaseline": "alphabetic"
      }
    },
    "color": {
      "field": "key",
      "type": "nominal",
      "scale": {
        "domain": ["EBT", "LBT", "UPP", "LOW"],
        "range": ["#0000ff", "#00ff00", "#ffff00", "#ff0000"]
      },
      "legend": {
        "title": "KEY",
        "orient": "none",
        "legendX": 41,
        "legendY": 541,
        "direction": "vertical",
        "titleFont": "Liberation Sans",
        "titleFontSize": 20,
        "titleFontWeight": "normal",
        "titleColor": "black",
        "titlePadding": 10,
        "labelFont": "Liberation Sans",
        "labelFontSize": 16.5,
        "labelColor": "black",
        "labelOffset": 40,
        "labelLimit": 500,
        "symbolOffset": 36,
        "symbolSize": 110,
        "symbolStrokeWidth": 1,
        "symbolType": "M-1,-0.78L1,0.78M-1,0.78L1,-0.78",
        "rowPadding": 0.5,
        "labelExpr": "datum.value == 'EBT' ? 'CARRIAGEWAY_EBT v CHAINAGE' : datum.value == 'LBT' ? 'CARRIAGEWAY_LBT v CHAINAGE' : datum.value == 'UPP' ? 'UPPERLIMIT_OF_CARRIAGEWAY_WID v CHAINAGE' : 'LOWER\u00a0 LIMIT\u00a0 OF\u00a0 CARRIAGEWAY\u00a0 WI v CHAINAGE'"
      }
    }
  }
}
